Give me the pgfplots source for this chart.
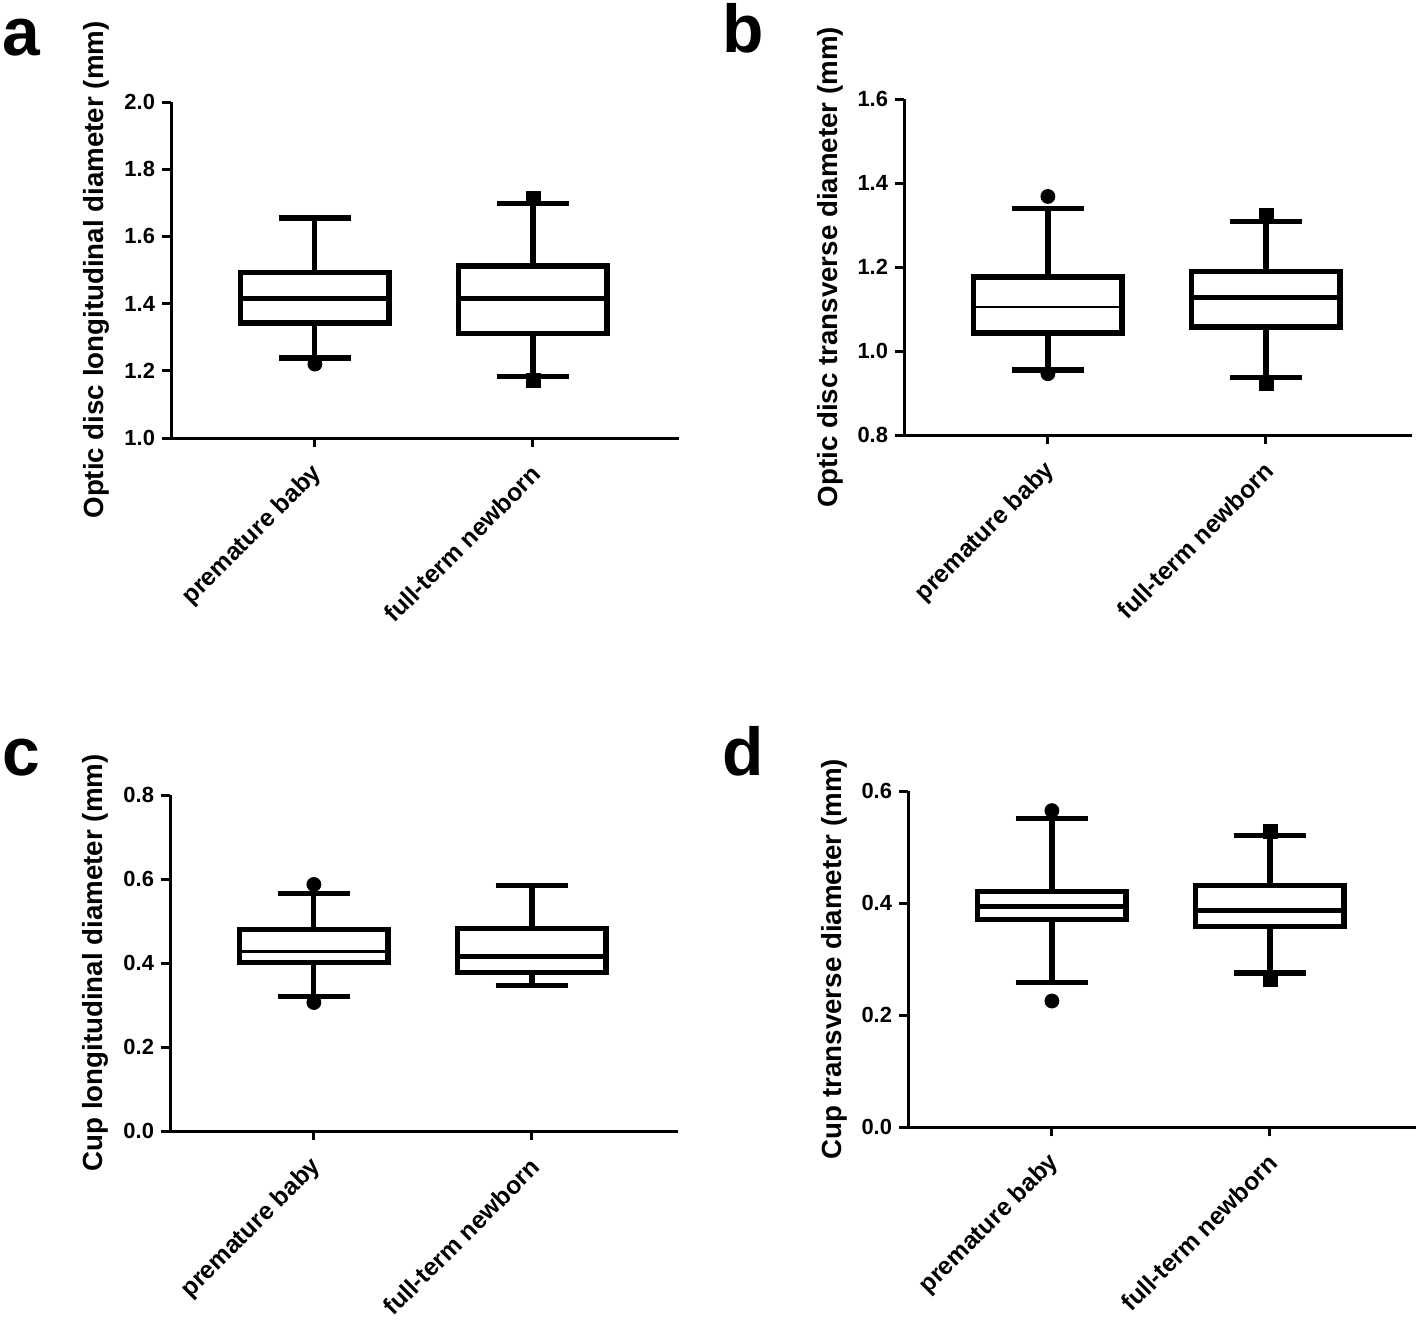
\documentclass[border=0pt]{standalone}
\usepackage{fontspec}
\setmainfont{Liberation Sans}
\usepackage{pgfplots}
\usepgfplotslibrary{statistics}
\pgfplotsset{compat=1.18}

\pgfplotsset{
  panel/.style={
    scale only axis, width=254bp, height=168bp,
    anchor=south west,
    axis lines*=left,
    axis line style={line width=1.5bp, -},
    xmin=0.34, xmax=2.67,
    xtick={1,2},
    xticklabels={premature baby, full-term newborn},
    tick style={black, line width=1.5bp},
    major tick length=4.5bp,
    tick align=outside,
    tick pos=left,
    /pgf/number format/assume math mode=true,
    xticklabel style={xshift=4bp, yshift=-9bp, rotate=45, anchor=east,
      font=\bfseries\fontsize{12.4}{14}\selectfont},
    yticklabel style={font=\bfseries\fontsize{11}{13}\selectfont,
      /pgf/number format/.cd, fixed, fixed zerofill, precision=1},
    every axis y label/.style={at={(axis description cs:-0.146,0.5)}, rotate=90,
      anchor=center, font=\bfseries\fontsize{13.9}{16}\selectfont},
    boxplot/draw direction=y,
    boxplot/box extend=0.68,
    boxplot/whisker extend=0.33,
  },
  bx/.style={black, line width=2.6bp, mark options={solid, line width=0.4bp}, mark size=3.5bp},
}

\begin{document}
\begin{tikzpicture}
\path[use as bounding box] (0,0) rectangle (709bp,-660bp);

% a
\begin{axis}[panel, at={(85.5bp,-219bp)}, ymin=1.0, ymax=2.0, ytick={1.0,1.2,...,2.0},
  ylabel={Optic disc longitudinal diameter (mm)}]
\addplot[bx, mark=*, boxplot prepared={draw position=1, lower whisker=1.238, lower quartile=1.342,
  median=1.416, upper quartile=1.493, upper whisker=1.655}] coordinates {(1,1.220)};
\addplot[bx, mark=square*, boxplot prepared={draw position=2, lower whisker=1.182, lower quartile=1.312,
  median=1.415, upper quartile=1.512, upper whisker=1.698}] coordinates {(2,1.172) (2,1.714)};
\end{axis}

% b
\begin{axis}[panel, at={(452bp,-217.5bp)}, ymin=0.8, ymax=1.6, ytick={0.8,1.0,...,1.6},
  ylabel={Optic disc transverse diameter (mm)}]
\addplot[bx, mark=*, boxplot prepared={draw position=1, lower whisker=0.955, lower quartile=1.043,
  median=1.105, upper quartile=1.176, upper whisker=1.339, every median/.style={line width=1.2bp}}]
  coordinates {(1,0.946) (1,1.368)};
\addplot[bx, mark=square*, boxplot prepared={draw position=2, lower whisker=0.936, lower quartile=1.057,
  median=1.128, upper quartile=1.189, upper whisker=1.308}] coordinates {(2,0.922) (2,1.323)};
\end{axis}

% c
\begin{axis}[panel, at={(85bp,-565.5bp)}, ymin=0, ymax=0.8, ytick={0,0.2,...,0.8},
  ylabel={Cup longitudinal diameter (mm)}]
\addplot[bx, mark=*, boxplot prepared={draw position=1, lower whisker=0.320, lower quartile=0.402,
  median=0.427, upper quartile=0.480, upper whisker=0.566, every median/.style={line width=1.2bp}}]
  coordinates {(1,0.306) (1,0.587)};
\addplot[bx, mark=square*, boxplot prepared={draw position=2, lower whisker=0.346, lower quartile=0.378,
  median=0.416, upper quartile=0.483, upper whisker=0.584}] coordinates {};
\end{axis}

% d
\begin{axis}[panel, at={(454bp,-563.5bp)}, ymin=0, ymax=0.6, ytick={0,0.2,...,0.6},
  ylabel={Cup transverse diameter (mm)}]
\addplot[bx, mark=*, boxplot prepared={draw position=1, lower whisker=0.258, lower quartile=0.371,
  median=0.394, upper quartile=0.420, upper whisker=0.551}] coordinates {(1,0.225) (1,0.565)};
\addplot[bx, mark=square*, boxplot prepared={draw position=2, lower whisker=0.275, lower quartile=0.358,
  median=0.387, upper quartile=0.432, upper whisker=0.521}] coordinates {(2,0.264) (2,0.528)};
\end{axis}

% panel letters
\node[anchor=base west, inner sep=0pt, font=\bfseries\fontsize{34}{34}\selectfont] at (1bp,-27.5bp) {a};
\node[anchor=base west, inner sep=0pt, font=\bfseries\fontsize{34}{34}\selectfont] at (361bp,-26bp) {b};
\node[anchor=base west, inner sep=0pt, font=\bfseries\fontsize{34}{34}\selectfont] at (1bp,-387.5bp) {c};
\node[anchor=base west, inner sep=0pt, font=\bfseries\fontsize{34}{34}\selectfont] at (361bp,-387.5bp) {d};
\end{tikzpicture}
\end{document}
